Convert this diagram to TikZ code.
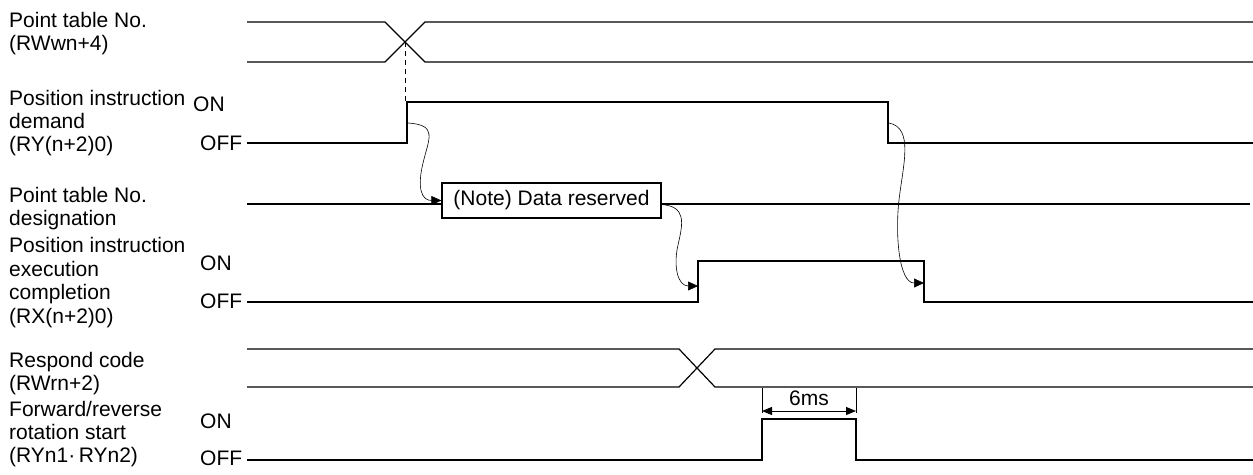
\documentclass[tikz,border=0pt]{standalone}
\usepackage{fontspec}
\setmainfont{Liberation Sans}
\usetikzlibrary{arrows.meta}
\begin{document}
\begin{tikzpicture}[x=1pt,y=-1pt,
  sigtext/.style={anchor=base west, align=left, inner sep=0pt, font=\fontsize{21}{23.4}\selectfont},
  onoff/.style={anchor=west, inner sep=0pt, font=\fontsize{21}{23.4}\selectfont},
  wave/.style={line width=1.2pt},
  busline/.style={line width=2.2pt},
  notebox/.style={rectangle, draw, line width=1.2pt, minimum width=219pt, minimum height=35pt, inner sep=0pt, font=\fontsize{21}{23.4}\selectfont},
  causearrow/.style={line width=0.6pt, -{Triangle[length=10pt,width=9pt]}},
  dimline/.style={line width=1pt, {Triangle[length=10pt,width=8pt]}-{Triangle[length=10pt,width=8pt]}}]
\useasboundingbox (0,0) rectangle (1253,474);

% signal names (placed at the baseline of their last line)
\node[sigtext] (PtTable) at (9,50.4) {Point table No.\\(RWwn+4)};
\node[sigtext] (PosDemand) at (9,151.8) {Position instruction\\demand\\(RY(n+2)0)};
\node[sigtext] (PtDesig) at (9,225.4) {Point table No.\\designation};
\node[sigtext] (PosDone) at (9,323) {Position instruction\\execution\\completion\\(RX(n+2)0)};
\node[sigtext] (RespCode) at (9,390.4) {Respond code\\(RWrn+2)};
\node[sigtext] (FwdRev) at (9,462.8) {Forward/reverse\\rotation start\\(RYn1·\,RYn2)};

% levels
\node[onoff] (DemOn) at (193,104) {ON};
\node[onoff] (DemOff) at (200,143) {OFF};
\node[onoff] (DoneOn) at (200,263) {ON};
\node[onoff] (DoneOff) at (200,301) {OFF};
\node[onoff] (FwdOn) at (200,421) {ON};
\node[onoff] (FwdOff) at (200,458) {OFF};

% point table No.
\draw[wave] (247,22) -- (385,22) -- (425,62) -- (1253,62);
\draw[wave] (247,62) -- (385,62) -- (425,22) -- (1253,22);
\coordinate (PtCross) at (405,42);

% position instruction demand
\draw[wave] (247,143) -- (407,143) -- (407,102) -- (888,102) -- (888,143) -- (1253,143);
\coordinate (DemTop) at (405,102);
\coordinate (DemRise) at (408,123);
\coordinate (DemFall) at (889,123);
\draw[line width=0.8pt, dash pattern=on 5pt off 4pt] (PtCross) -- (DemTop);

% point table No. designation
\node[notebox] (Note) at (551.5,200.5) {(Note) Data reserved};
\draw[busline] (247,204) -- (Note.west |- 0,204);
\draw[busline] (Note.east |- 0,204) -- (1250,204);

% execution completion
\draw[wave] (247,302) -- (698,302) -- (698,261) -- (924,261) -- (924,302) -- (1253,302);
\coordinate (DoneRise) at (698,286);
\coordinate (DoneFall) at (924,283);

% respond code
\draw[wave] (247,349) -- (679,349) -- (715,387) -- (1253,387);
\draw[wave] (247,387) -- (679,387) -- (715,349) -- (1253,349);

% forward/reverse rotation start
\draw[wave] (247,460) -- (762,460) -- (762,419) -- (856,419) -- (856,460) -- (1253,460);
\draw[line width=1pt] (762,388) -- (762,413);
\draw[line width=1pt] (856,388) -- (856,413);
\draw[dimline] (762,411) -- (856,411);
\node[onoff, anchor=center] (SixMs) at (809,398.5) {6ms};

% causes
\draw[causearrow] (DemRise) .. controls +(30,2) and +(6,-25) .. (423,163)
  .. controls +(-6,25) and +(-20,0) .. (Note.west);
\draw[causearrow] ([yshift=-4pt]Note.east) .. controls +(25,2) and +(5,-22) .. (678,245)
  .. controls +(-5,22) and +(-20,0) .. (DoneRise);
\draw[causearrow] (DemFall) .. controls +(25,5) and +(4,-35) .. (899,200)
  .. controls +(-4,35) and +(-25,0) .. (DoneFall);
\end{tikzpicture}
\end{document}
